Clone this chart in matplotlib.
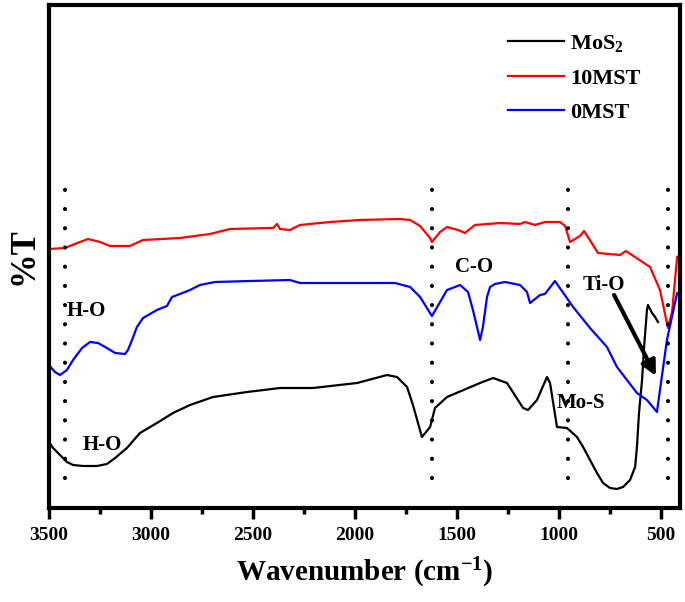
import numpy as np
import matplotlib
matplotlib.use('Agg')
import matplotlib.pyplot as plt
from matplotlib.ticker import MultipleLocator

# fonts: Times-like bold everywhere
plt.rcParams['font.family'] = ['Liberation Serif', 'DejaVu Serif']
plt.rcParams['font.weight'] = 'bold'
plt.rcParams['mathtext.fontset'] = 'custom'
plt.rcParams['mathtext.rm'] = 'Liberation Serif:bold'
plt.rcParams['mathtext.it'] = 'Liberation Serif:bold'
plt.rcParams['mathtext.bf'] = 'Liberation Serif:bold'
plt.rcParams['mathtext.default'] = 'rm'

# FTIR spectra (transmittance in arbitrary units, offset)
wn_mos2 = [3500, 3480, 3446, 3412, 3382, 3333, 3265, 3216, 3176, 3118, 3054, 2971,
           2892, 2809, 2696, 2529, 2368, 2206, 1990, 1843, 1794, 1745, 1716, 1672,
           1632, 1608, 1549, 1387, 1323, 1255, 1176, 1152, 1108, 1059, 1044, 1010,
           961, 912, 882, 848, 814, 784, 750, 716, 686, 652, 627, 618, 608, 593,
           583, 569, 564, 544, 529, 515]
t_mos2 = [66, 60, 53, 46, 43, 42, 42, 44, 50, 60, 75, 85,
          95, 103, 111, 116, 120, 120, 125, 133, 131, 121, 103, 71,
          81, 100, 111, 125, 130, 125, 100, 98, 108, 131, 125, 81,
          80, 71, 61, 48, 35, 25, 20, 19, 21, 28, 41, 61, 95, 128,
          161, 198, 203, 195, 191, 186]

wn_10mst = [3500, 3422, 3373, 3309, 3250, 3201, 3103, 3039, 2858, 2711, 2613, 2417,
            2402, 2382, 2368, 2319, 2270, 2122, 1975, 1779, 1730, 1681, 1632, 1623,
            1583, 1549, 1495, 1461, 1412, 1289, 1191, 1167, 1118, 1069, 995, 970,
            946, 897, 877, 809, 701, 672, 554, 505, 466, 446, 421, 407]
t_10mst = [259, 260, 264, 269, 266, 262, 262, 268, 270, 274, 279, 280,
           280, 284, 279, 278, 283, 286, 288, 289, 288, 282, 270, 266,
           276, 281, 278, 275, 283, 285, 284, 286, 283, 286, 286, 282,
           266, 272, 277, 255, 253, 257, 241, 218, 180, 196, 251, 253]

wn_0mst = [3500, 3471, 3446, 3412, 3382, 3338, 3299, 3260, 3216, 3176, 3127, 3113,
           3093, 3069, 3039, 2971, 2922, 2897, 2858, 2809, 2760, 2686, 2515, 2319,
           2270, 2024, 1804, 1730, 1681, 1623, 1583, 1549, 1485, 1446, 1422, 1402,
           1387, 1373, 1353, 1338, 1314, 1265, 1191, 1157, 1142, 1093, 1069, 1020,
           931, 848, 765, 716, 618, 569, 520, 471, 421, 407]
t_0mst = [143, 136, 133, 138, 148, 160, 166, 165, 160, 155, 154, 158,
          168, 181, 190, 198, 202, 211, 214, 218, 223, 226, 227, 228,
          225, 225, 225, 221, 211, 192, 206, 218, 223, 216, 198, 181,
          168, 181, 211, 221, 224, 226, 223, 216, 205, 213, 214, 227,
          201, 180, 161, 141, 115, 108, 96, 168, 215, 215]

# marked band positions
band_lines = [3422, 1623, 956, 466]

fig = plt.figure(figsize=(6.85, 6.02), dpi=100)
ax = fig.add_axes([49/685, 1-508/602, 631/685, 503/602])

ax.plot(wn_mos2, t_mos2, color='black', lw=1.6, label='MoS$_2$')
ax.plot(wn_10mst, t_10mst, color='#ff0000', lw=1.6, label='10MST')
ax.plot(wn_0mst, t_0mst, color='#0000ff', lw=1.6, label='0MST')

for b in band_lines:
    ax.plot([b, b], [30, 323], color='black', lw=3, ls=(0, (0.01, 4.6)),
            dash_capstyle='round')

# band labels
ax.text(3412, 192, 'H-O', fontsize=15, fontweight='bold')
ax.text(3333, 58, 'H-O', fontsize=15, fontweight='bold')
ax.text(1510, 236, 'C-O', fontsize=15, fontweight='bold')
ax.text(1010, 100, 'Mo-S', fontsize=15, fontweight='bold')
ax.text(882, 218, 'Ti-O', fontsize=15, fontweight='bold')
ax.annotate('', xy=(525, 132), xytext=(730, 213),
            arrowprops=dict(arrowstyle='-|>', color='black', lw=3,
                            mutation_scale=22, shrinkA=0, shrinkB=0))

ax.set_xlim(3500, 407)
ax.set_ylim(0, 503)
ax.xaxis.set_major_locator(MultipleLocator(500))
ax.xaxis.set_minor_locator(MultipleLocator(250))
ax.set_yticks([])
ax.tick_params(axis='x', which='major', direction='out', length=8, width=2.5,
               labelsize=14, pad=6)
ax.tick_params(axis='x', which='minor', direction='out', length=4, width=2.5)
for lab in ax.get_xticklabels():
    lab.set_fontweight('bold')
for s in ax.spines.values():
    s.set_linewidth(3)

ax.set_xlabel('Wavenumber (cm$^{-1}$)', fontsize=21, fontweight='bold', labelpad=8)
ax.set_ylabel('%T', fontsize=25, fontweight='bold', labelpad=6)

ax.legend(loc='upper left', bbox_to_anchor=(497/685, 1-22/602),
          bbox_transform=fig.transFigure, frameon=False,
          handlelength=2.5, handletextpad=0.3, labelspacing=0.63, borderpad=0,
          prop={'weight': 'bold', 'size': 16})

fig.savefig('out.png', dpi=100)
